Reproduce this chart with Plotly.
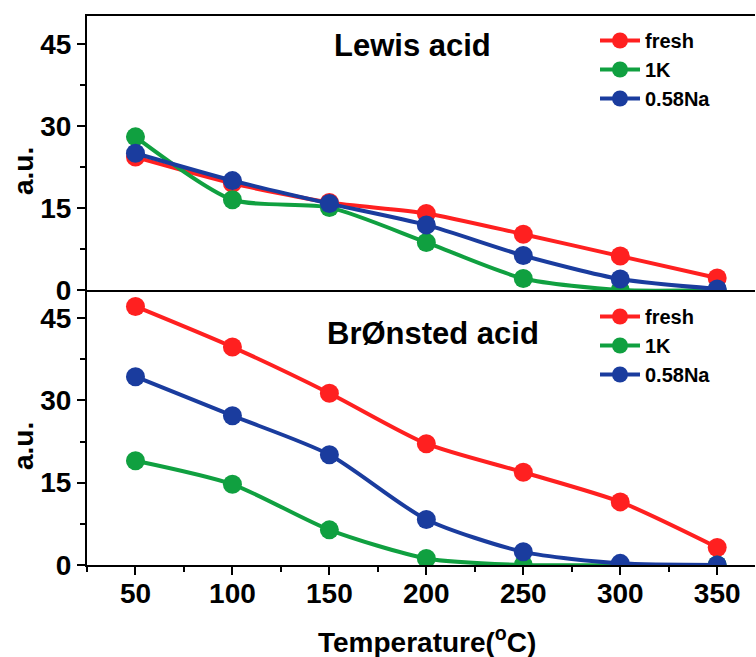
import plotly.graph_objects as go
from plotly.subplots import make_subplots

temps = [50, 100, 150, 200, 250, 300, 350]
series_names = ["fresh", "1K", "0.58Na"]
colors = ["#FF2020", "#10A040", "#1A3C9E"]

lewis_fresh = [24.3, 19.5, 16.0, 14.0, 10.2, 6.2, 2.2]
lewis_1k = [28.0, 16.5, 15.1, 8.7, 2.1, 0.0, 0.0]
lewis_na = [25.0, 20.0, 15.8, 11.9, 6.3, 2.0, 0.2]

bron_fresh = [47.1, 39.7, 31.3, 22.1, 16.9, 11.5, 3.2]
bron_1k = [19.0, 14.7, 6.4, 1.2, 0.0, 0.0, 0.0]
bron_na = [34.3, 27.2, 20.1, 8.3, 2.4, 0.3, 0.0]

y_ticks = [0, 15, 30, 45]
x_ticks = [50, 100, 150, 200, 250, 300, 350]

W, H = 756, 657
ML, MR, MT, MB = 87, 1, 16, 92
PW, PH = W - ML - MR, H - MT - MB


def px(x):
    return (x - ML) / PW


def py(y):
    return (H - MB - y) / PH


split = py(290)

fig = make_subplots(rows=2, cols=1, shared_xaxes=False, vertical_spacing=0)

FONT = "Liberation Sans, Arial, sans-serif"

for vals, name, col in zip([lewis_fresh, lewis_1k, lewis_na], series_names, colors):
    fig.add_trace(go.Scatter(x=temps, y=vals, name=name, mode="lines+markers",
                             line=dict(color=col, width=4, shape="spline", smoothing=0.7),
                             marker=dict(color=col, size=19),
                             legend="legend"), row=1, col=1)
for vals, name, col in zip([bron_fresh, bron_1k, bron_na], series_names, colors):
    fig.add_trace(go.Scatter(x=temps, y=vals, name=name, mode="lines+markers",
                             line=dict(color=col, width=4, shape="spline", smoothing=0.7),
                             marker=dict(color=col, size=19),
                             legend="legend2"), row=2, col=1)

tickfont = dict(family=FONT, size=28, color="black", weight="bold")
yax = dict(range=[0, 50.1], tickvals=y_ticks, ticks="outside", ticklen=8, tickwidth=2,
           tickcolor="black", showline=True, linecolor="black", linewidth=2,
           showgrid=False, zeroline=False, tickfont=tickfont,
           minor=dict(ticks="outside", ticklen=5, tickwidth=2, tickcolor="black", dtick=7.5, tick0=0))
fig.update_yaxes(**yax)
fig.update_yaxes(domain=[split, 1], row=1, col=1)
fig.update_yaxes(domain=[0, split], row=2, col=1)

fig.update_xaxes(range=[25, 369.5], showline=True, linecolor="black", linewidth=2,
                 showgrid=False, zeroline=False)
fig.update_xaxes(showticklabels=False, ticks="", mirror=True, row=1, col=1)
fig.update_xaxes(tickvals=x_ticks, ticks="outside", ticklen=8, tickwidth=2, tickcolor="black",
                 tickfont=tickfont, mirror=False, ticklabelstandoff=-6,
                 minor=dict(ticks="outside", ticklen=5, tickwidth=2, tickcolor="black", dtick=25, tick0=25),
                 row=2, col=1)

legfont = dict(family=FONT, size=20, color="black", weight="bold")
fig.update_layout(
    width=W, height=H,
    margin=dict(l=ML, r=MR, t=MT, b=MB),
    paper_bgcolor="white", plot_bgcolor="white",
    showlegend=True,
    legend=dict(x=px(595), y=py(21), xanchor="left", yanchor="top", font=legfont,
                bgcolor="rgba(0,0,0,0)", tracegroupgap=0, itemwidth=40),
    legend2=dict(x=px(595), y=py(297), xanchor="left", yanchor="top", font=legfont,
                 bgcolor="rgba(0,0,0,0)", tracegroupgap=0, itemwidth=40),
)

annfont = dict(family=FONT, color="black", weight="bold")
common = dict(xref="paper", yref="paper", showarrow=False, xanchor="center", yanchor="middle")
fig.add_annotation(x=px(412), y=py(46), text="Lewis acid", font=dict(size=31, **annfont), **common)
fig.add_annotation(x=px(433), y=py(333), text="BrØnsted acid", font=dict(size=31, **annfont), **common)
fig.add_annotation(x=px(23), y=py(171), text="a.u.", textangle=-90, font=dict(size=28, **annfont), **common)
fig.add_annotation(x=px(23), y=py(446), text="a.u.", textangle=-90, font=dict(size=28, **annfont), **common)
fig.add_annotation(x=px(427), y=py(640), text="Temperature(<sup>o</sup>C)",
                   font=dict(size=28, **annfont), **common)

fig.write_html("out.html")
